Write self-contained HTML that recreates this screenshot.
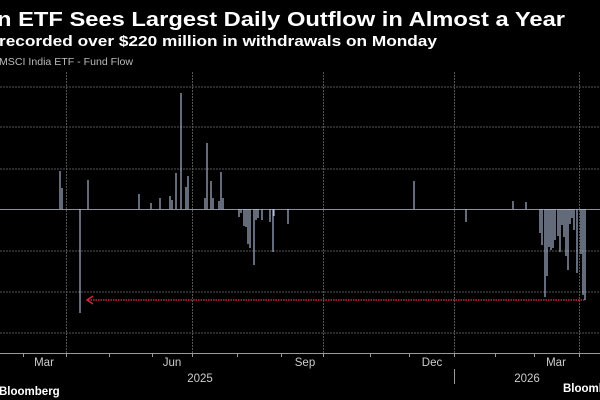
<!DOCTYPE html>
<html><head><meta charset="utf-8"><style>
body{margin:0;background:#000;width:600px;height:400px;overflow:hidden;font-family:"Liberation Sans",sans-serif}
</style></head><body>
<svg width="600" height="400" xmlns="http://www.w3.org/2000/svg" style="display:block">
<rect width="600" height="400" fill="#000"/>
<text x="-3" y="26" fill="#fff" font-size="20" font-weight="bold" textLength="568" lengthAdjust="spacingAndGlyphs">n ETF Sees Largest Daily Outflow in Almost a Year</text>
<text x="-1" y="46" fill="#fff" font-size="15" font-weight="bold" textLength="438" lengthAdjust="spacingAndGlyphs">recorded over $220 million in withdrawals on Monday</text>
<text x="-1" y="65" fill="#bbb" font-size="10.5" textLength="134" lengthAdjust="spacingAndGlyphs">MSCI India ETF - Fund Flow</text>
<g stroke="#555" stroke-width="1" stroke-dasharray="2,1">
<line x1="0" y1="87" x2="600" y2="87"/><line x1="0" y1="127" x2="600" y2="127"/>
<line x1="0" y1="169" x2="600" y2="169"/><line x1="0" y1="251" x2="600" y2="251"/>
<line x1="0" y1="292" x2="600" y2="292"/><line x1="0" y1="333" x2="600" y2="333"/>
<line x1="66.5" y1="72" x2="66.5" y2="353"/><line x1="192.5" y1="72" x2="192.5" y2="353"/>
<line x1="323.5" y1="72" x2="323.5" y2="353"/><line x1="454.5" y1="72" x2="454.5" y2="353"/>
<line x1="579.5" y1="72" x2="579.5" y2="353"/>
</g>
<line x1="0" y1="209.5" x2="600" y2="209.5" stroke="#8a8f99" stroke-width="1"/>
<line x1="0" y1="353.5" x2="600" y2="353.5" stroke="#999" stroke-width="1"/>
<g stroke="#999" stroke-width="1">
<line x1="23.5" y1="353" x2="23.5" y2="357"/><line x1="66.5" y1="353" x2="66.5" y2="357"/><line x1="109.5" y1="353" x2="109.5" y2="357"/><line x1="152.5" y1="353" x2="152.5" y2="357"/><line x1="192.5" y1="353" x2="192.5" y2="357"/><line x1="237.5" y1="353" x2="237.5" y2="357"/><line x1="281.5" y1="353" x2="281.5" y2="357"/><line x1="323.5" y1="353" x2="323.5" y2="357"/><line x1="370.5" y1="353" x2="370.5" y2="357"/><line x1="409.5" y1="353" x2="409.5" y2="357"/><line x1="454.5" y1="353" x2="454.5" y2="357"/><line x1="495.5" y1="353" x2="495.5" y2="357"/><line x1="534.5" y1="353" x2="534.5" y2="357"/><line x1="579.5" y1="353" x2="579.5" y2="357"/>
<line x1="454.5" y1="369" x2="454.5" y2="384"/>
</g>
<g fill="#ccc" font-size="11.5" text-anchor="middle">
<text x="44" y="366">Mar</text><text x="172" y="366">Jun</text><text x="305" y="366">Sep</text><text x="432" y="366">Dec</text><text x="556" y="366">Mar</text>
<text x="200" y="382">2025</text><text x="527" y="382">2026</text>
</g>
<text x="-1" y="395" fill="#fff" font-size="11.5" font-weight="bold">Bloomberg</text>
<text x="563" y="392" fill="#fff" font-size="11.5" font-weight="bold">Bloomberg</text>
<g stroke="#b4c2dc" stroke-width="1.1">
<line x1="60" y1="209" x2="60" y2="171"/><line x1="62" y1="209" x2="62" y2="188"/>
<line x1="80" y1="209" x2="80" y2="313"/><line x1="88" y1="209" x2="88" y2="180"/>
<line x1="139" y1="209" x2="139" y2="194"/><line x1="151" y1="209" x2="151" y2="203"/><line x1="160" y1="209" x2="160" y2="198"/>
<line x1="170" y1="209" x2="170" y2="196"/><line x1="172" y1="209" x2="172" y2="200"/><line x1="176" y1="209" x2="176" y2="173"/>
<line x1="181" y1="209" x2="181" y2="93"/><line x1="186" y1="209" x2="186" y2="187"/><line x1="188" y1="209" x2="188" y2="176"/>
<line x1="205" y1="209" x2="205" y2="198"/><line x1="207" y1="209" x2="207" y2="143"/><line x1="211" y1="209" x2="211" y2="181"/>
<line x1="213" y1="209" x2="213" y2="198"/><line x1="219" y1="209" x2="219" y2="201"/><line x1="221" y1="209" x2="221" y2="172"/><line x1="223" y1="209" x2="223" y2="198"/>
<line x1="239" y1="209" x2="239" y2="217"/><line x1="241" y1="209" x2="241" y2="213"/><line x1="244" y1="209" x2="244" y2="226"/>
<line x1="246" y1="209" x2="246" y2="227"/><line x1="248" y1="209" x2="248" y2="244"/><line x1="250" y1="209" x2="250" y2="248"/>
<line x1="254" y1="209" x2="254" y2="265"/><line x1="256" y1="209" x2="256" y2="220"/><line x1="258" y1="209" x2="258" y2="218"/>
<line x1="262" y1="209" x2="262" y2="220"/><line x1="270" y1="209" x2="270" y2="222"/><line x1="273" y1="209" x2="273" y2="252"/>
<line x1="274" y1="209" x2="274" y2="216"/><line x1="288" y1="209" x2="288" y2="224"/>
<line x1="414" y1="209" x2="414" y2="181"/><line x1="466" y1="209" x2="466" y2="222"/>
<line x1="513" y1="209" x2="513" y2="201"/><line x1="526" y1="209" x2="526" y2="202"/>
<line x1="540" y1="209" x2="540" y2="233"/><line x1="542" y1="209" x2="542" y2="245"/><line x1="545" y1="209" x2="545" y2="297"/>
<line x1="547" y1="209" x2="547" y2="276"/><line x1="549" y1="209" x2="549" y2="247"/><line x1="551" y1="209" x2="551" y2="250"/>
<line x1="553" y1="209" x2="553" y2="248"/><line x1="555" y1="209" x2="555" y2="240"/><line x1="558" y1="209" x2="558" y2="236"/>
<line x1="560" y1="209" x2="560" y2="252"/><line x1="562" y1="209" x2="562" y2="225"/><line x1="564" y1="209" x2="564" y2="237"/>
<line x1="566" y1="209" x2="566" y2="256"/><line x1="568" y1="209" x2="568" y2="270"/><line x1="570" y1="209" x2="570" y2="224"/>
<line x1="572" y1="209" x2="572" y2="218"/><line x1="574" y1="209" x2="574" y2="230"/><line x1="577" y1="209" x2="577" y2="273"/>
<line x1="581" y1="209" x2="581" y2="254"/><line x1="583" y1="209" x2="583" y2="295"/><line x1="585" y1="209" x2="585" y2="300"/>
</g>
<g stroke="#d0243a" stroke-width="1.5" fill="none">
<line x1="88" y1="300" x2="585" y2="300" stroke-dasharray="1.5,1"/>
<polyline points="93,296 87,300 93,304"/>
</g>
</svg>
</body></html>
